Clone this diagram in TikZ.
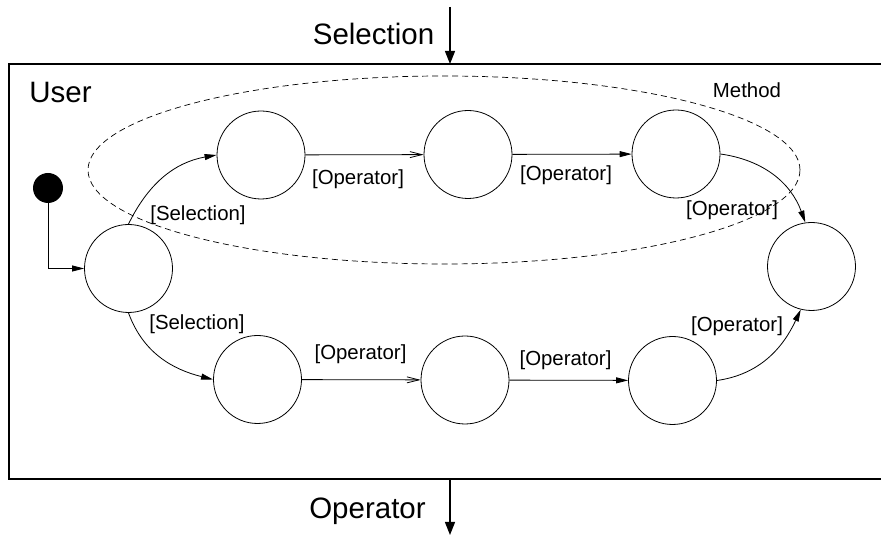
\documentclass[tikz,border=0pt]{standalone}
\usepackage{fontspec}
\setmainfont{Liberation Sans}
\usetikzlibrary{arrows.meta,shapes.geometric}
\begin{document}
\begin{tikzpicture}[x=1pt,y=1pt,
  state/.style={circle,draw,line width=0.8pt,minimum size=88pt,inner sep=0pt},
  lbl/.style={anchor=base,inner sep=0pt,font=\fontsize{20.4}{24}\selectfont},
  big/.style={anchor=base,inner sep=0pt,font=\fontsize{29.5}{34}\selectfont},
  fa/.style={-{Triangle[length=12pt,width=6pt]},line width=0.8pt},
  oa/.style={-{Straight Barb[length=12pt,width=6pt]},line width=0.8pt},
  io/.style={-{Triangle[length=13pt,width=10pt]},line width=1.3pt},
]
\useasboundingbox (0,0) rectangle (881,537);
% user box (open to the right)
\draw[line width=1.1pt] (881,473) -- (9,473) -- (9,58) -- (881,58);
% method ellipse
\node[ellipse,draw,dashed,dash pattern=on 6pt off 4pt,line width=0.7pt,minimum width=712pt,minimum height=188pt,inner sep=0pt] (meth) at (444,367) {};
% states
\node[circle,fill=black,minimum size=30pt,inner sep=0pt] (start) at (48,349) {};
\node[state] (c0) at (128.5,268.5) {};
\node[state] (t1) at (261,382) {};
\node[state] (t2) at (468,382.5) {};
\node[state] (t3) at (676,383) {};
\node[state] (r) at (811.5,270.5) {};
\node[state] (b1) at (257.5,157.5) {};
\node[state] (b2) at (465,157) {};
\node[state] (b3) at (672.5,156.5) {};
% texts
\node[big] (user) at (60.5,434) {User};
\node[big] (seltxt) at (373.5,492) {Selection};
\node[big] (optxt) at (367.5,18) {Operator};
\node[lbl] (methtxt) at (747,439) {Method};
\node[lbl] (ls1) at (198,316.4) {[Selection]};
\node[lbl] (ls2) at (197,207) {[Selection]};
\node[lbl] (lo1) at (358,352) {[Operator]};
\node[lbl] (lo2) at (566,356.5) {[Operator]};
\node[lbl] (lo3) at (732,321) {[Operator]};
\node[lbl] (lo4) at (360.5,177) {[Operator]};
\node[lbl] (lo5) at (565.5,171) {[Operator]};
\node[lbl] (lo6) at (737,205) {[Operator]};
% in / out arrows
\coordinate (inA) at (450,530);
\coordinate (inB) at (450,473);
\coordinate (outA) at (450,58);
\coordinate (outB) at (450,2);
\draw[io] (inA) -- (inB);
\draw[io] (outA) -- (outB);
% transitions
\draw[fa] (start.south) |- (c0.west);
\draw[fa] (c0.north) to[out=64,in=190] (t1.west);
\draw[fa] (c0.south) to[out=-70,in=166] (b1.west);
\draw[oa] (t1) -- (t2);
\draw[fa] (t2) -- (t3);
\draw[oa] (b1) -- (b2);
\draw[fa] (b2) -- (b3);
\draw[fa] (t3.east) to[out=-8,in=110] (r.98);
\draw[fa] (b3.east) to[out=8,in=-115] (r.-104);
\end{tikzpicture}
\end{document}
